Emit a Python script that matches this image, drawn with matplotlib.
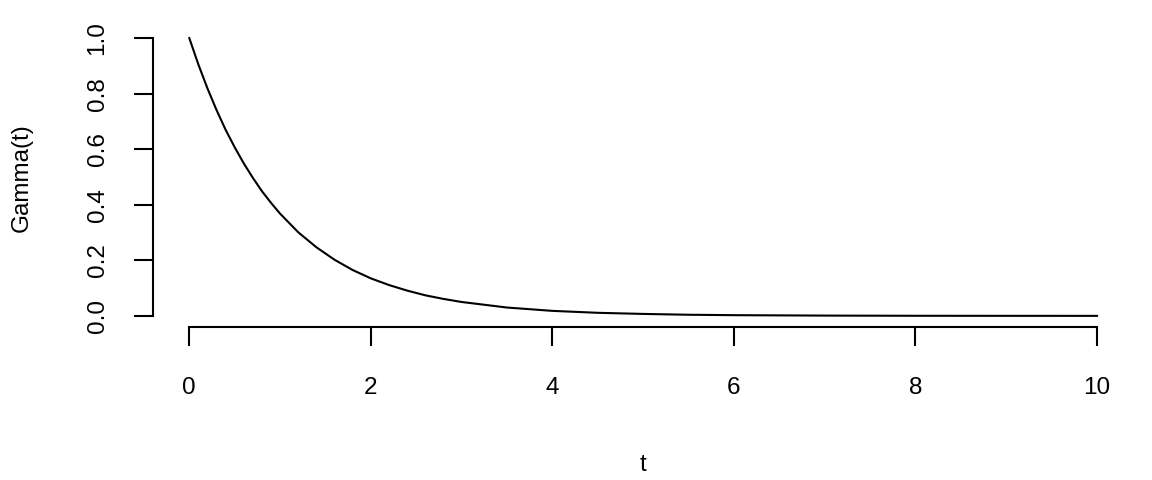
import matplotlib
matplotlib.use('Agg')
import matplotlib.pyplot as plt

plt.rcParams['font.family'] = ['Liberation Sans', 'DejaVu Sans']

# values
t = [0.0, 0.1, 0.2, 0.3, 0.4, 0.5, 0.6, 0.7, 0.8, 0.9, 1.0,
     1.2, 1.4, 1.6, 1.8, 2.0, 2.2, 2.4, 2.6, 2.8, 3.0,
     3.5, 4.0, 4.5, 5.0, 5.5, 6.0, 7.0, 8.0, 9.0, 10.0]
gamma = [1.000, 0.905, 0.819, 0.741, 0.670, 0.607, 0.549, 0.497, 0.449, 0.407, 0.368,
         0.301, 0.247, 0.202, 0.165, 0.135, 0.111, 0.091, 0.074, 0.061, 0.050,
         0.030, 0.018, 0.011, 0.007, 0.004, 0.0025, 0.001, 0.0003, 0.0001, 0.0000]

xticks = [0, 2, 4, 6, 8, 10]
yticks = [0.0, 0.2, 0.4, 0.6, 0.8, 1.0]

fig = plt.figure(figsize=(11.52, 4.8), dpi=100)
ax = fig.add_axes([0.1328, 0.3188, 0.851, 0.625])

ax.plot(t, gamma, color='black', linewidth=1.5)

ax.set_xlim(-0.4, 10.4)
ax.set_ylim(-0.04, 1.04)

for s in ['top', 'right']:
    ax.spines[s].set_visible(False)
ax.spines['left'].set_bounds(0, 1)
ax.spines['bottom'].set_bounds(0, 10)
ax.spines['left'].set_linewidth(1.5)
ax.spines['bottom'].set_linewidth(1.5)

ax.set_xticks(xticks)
ax.set_xticklabels([str(v) for v in xticks])
ax.set_yticks(yticks)
ax.set_yticklabels(['%.1f' % v for v in yticks], rotation=90, va='center')
ax.tick_params(axis='both', direction='out', length=14, width=1.5,
               labelsize=17.5, pad=18)
ax.tick_params(axis='x', pad=22)

fig.text(22 / 1152, 1 - 178 / 480, 'Gamma(t)', rotation=90,
         ha='center', va='center', fontsize=17.5)
fig.text(643 / 1152, 1 - 465 / 480, 't', ha='center', va='center', fontsize=17.5)

fig.savefig('out.png', dpi=100)
